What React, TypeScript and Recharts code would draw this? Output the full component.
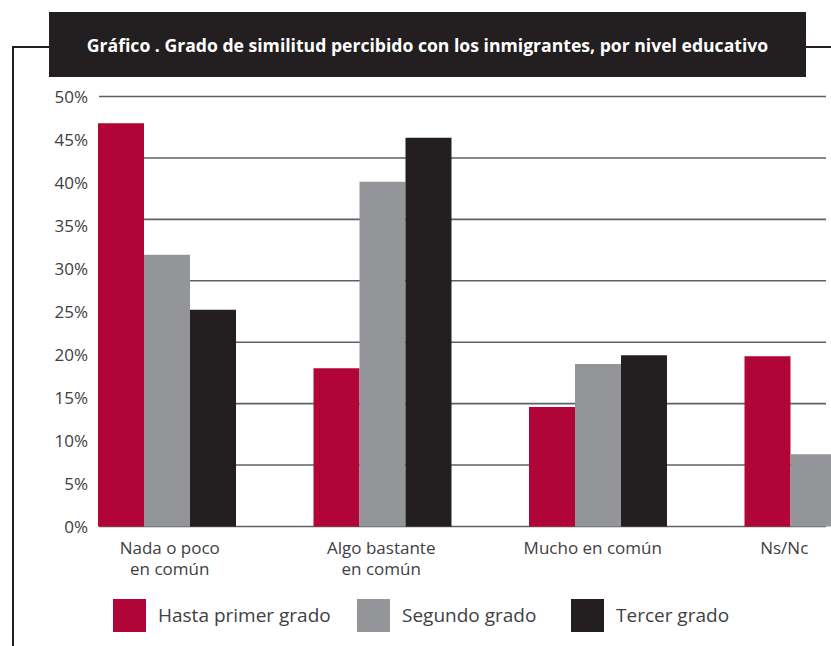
import React from "react";
import { BarChart, Bar, XAxis, YAxis, CartesianGrid, Legend } from "recharts";

const TITLE = "Gráfico . Grado de similitud percibido con los inmigrantes, por nivel educativo";

const CATEGORIES = ["Nada o poco\nen común", "Algo bastante\nen común", "Mucho en común", "Ns/Nc"];

const SERIES_NAMES = ["Hasta primer grado", "Segundo grado", "Tercer grado"];
const SERIES_COLORS = ["#b10538", "#939598", "#231f20"];

const HASTA_PRIMER = [46.9, 18.4, 13.9, 19.8];
const SEGUNDO = [31.6, 40.1, 18.9, 8.4];
const TERCER = [25.2, 45.2, 19.9, 10.0];

const Y_TICKS = [0, 5, 10, 15, 20, 25, 30, 35, 40, 45, 50];
const GRID_COUNT = 7;

const data = CATEGORIES.map((c, i) => ({
  cat: c,
  s0: HASTA_PRIMER[i],
  s1: SEGUNDO[i],
  s2: TERCER[i],
}));

const gridValues = Array.from({ length: GRID_COUNT + 1 }, (_, i) => (i * 50) / GRID_COUNT);

const TEXT = "#414042";
const FONT = "'Open Sans', sans-serif";

const LABEL_NUDGE = [3, -1, -5, -29];

const XTick = (props: any) => {
  const { x, y, payload, index } = props;
  const lines = String(payload.value).split("\n");
  return (
    <g transform={`translate(${x + (LABEL_NUDGE[index] || 0)},${y})`}>
      <text textAnchor="middle" fontSize={17} fill={TEXT} fontFamily={FONT}>
        {lines.map((l, i) => (
          <tspan key={i} x={0} y={27.5 + i * 21}>
            {l}
          </tspan>
        ))}
      </text>
    </g>
  );
};

const LEGEND_LEFT = [113, 357, 571];

const LegendContent = () => (
  <div style={{ position: "relative", width: 831, height: 50 }}>
    {SERIES_NAMES.map((n, i) => (
      <div
        key={n}
        style={{
          position: "absolute",
          left: LEGEND_LEFT[i],
          top: 12.5,
          display: "flex",
          alignItems: "center",
          height: 33,
        }}
      >
        <div style={{ width: 33, height: 33, background: SERIES_COLORS[i] }} />
        <span
          style={{
            marginLeft: 12,
            fontSize: 19,
            color: TEXT,
            fontFamily: FONT,
            whiteSpace: "nowrap",
            lineHeight: "33px",
          }}
        >
          {n}
        </span>
      </div>
    ))}
  </div>
);

export default function App() {
  return (
    <div
      style={{
        position: "fixed",
        left: 0,
        top: 0,
        width: 831,
        height: 646,
        overflow: "hidden",
        background: "#ffffff",
        fontFamily: FONT,
      }}
    >
      <div style={{ position: "absolute", left: 0, top: 0 }}>
        <BarChart
          width={950}
          height={646}
          data={data}
          margin={{ top: 96.5, right: 124, bottom: 9.5, left: 0 }}
          barCategoryGap={39}
          barGap={0}
        >
          <CartesianGrid
            horizontal={true}
            vertical={false}
            horizontalValues={gridValues}
            stroke="#5f6063"
            strokeWidth={1.6}
          />
          <XAxis
            dataKey="cat"
            axisLine={false}
            tickLine={false}
            tickSize={0}
            tickMargin={0}
            height={60}
            interval={0}
            padding={{ left: -40, right: -95 }}
            tick={<XTick />}
          />
          <YAxis
            width={99}
            domain={[0, 50]}
            ticks={Y_TICKS}
            axisLine={false}
            tickLine={false}
            tickSize={0}
            tickMargin={11}
            tickFormatter={(v: number) => `${v}%`}
            tick={{ fontSize: 17, fill: TEXT, fontFamily: FONT }}
          />
          <Legend verticalAlign="bottom" content={<LegendContent />} wrapperStyle={{ left: 0, width: 831, height: 50 }} />
          <Bar dataKey="s0" name={SERIES_NAMES[0]} fill={SERIES_COLORS[0]} isAnimationActive={false} />
          <Bar dataKey="s1" name={SERIES_NAMES[1]} fill={SERIES_COLORS[1]} isAnimationActive={false} />
          <Bar dataKey="s2" name={SERIES_NAMES[2]} fill={SERIES_COLORS[2]} isAnimationActive={false} />
        </BarChart>
      </div>
      {/* frame bracket */}
      <div style={{ position: "absolute", left: 12, top: 46, width: 2, height: 600, background: "#231f20" }} />
      <div style={{ position: "absolute", left: 12, top: 46, width: 38, height: 2, background: "#231f20" }} />
      <div style={{ position: "absolute", left: 805, top: 46, width: 26, height: 2, background: "#231f20" }} />
      {/* title box */}
      <div
        style={{
          position: "absolute",
          left: 49,
          top: 12,
          width: 757,
          height: 65,
          background: "#231f20",
          color: "#ffffff",
          display: "flex",
          alignItems: "center",
          justifyContent: "center",
          fontWeight: 700,
          fontSize: 17.6,
          fontFamily: FONT,
          whiteSpace: "nowrap",
        }}
      >
        {TITLE}
      </div>
    </div>
  );
}
